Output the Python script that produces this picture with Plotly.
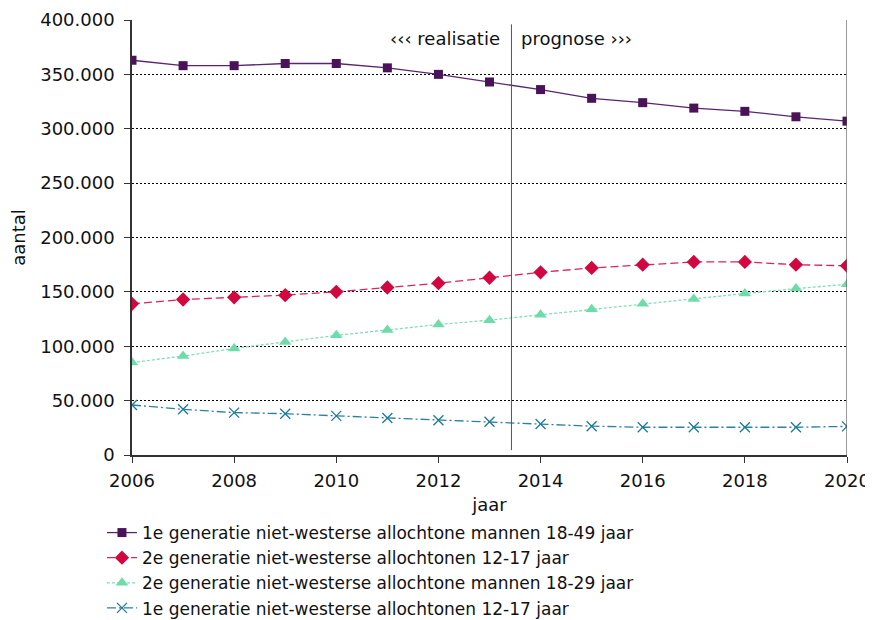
import plotly.graph_objects as go

years = list(range(2006, 2021))
s1_name = "1e generatie niet-westerse allochtone mannen 18-49 jaar"
s1 = [363000, 358000, 358000, 360000, 360000, 356000, 350000, 343000, 336000, 328000, 324000, 319000, 316000, 311000, 307000]
s2_name = "2e generatie niet-westerse allochtonen 12-17 jaar"
s2 = [139000, 143000, 145000, 147000, 150000, 154000, 158000, 163000, 168000, 172000, 175000, 177500, 177500, 175000, 174000]
s3_name = "2e generatie niet-westerse allochtone mannen 18-29 jaar"
s3 = [85000, 91000, 98000, 104000, 110000, 115000, 120000, 124000, 129000, 134000, 139000, 143500, 148500, 153000, 157000]
s4_name = "1e generatie niet-westerse allochtonen 12-17 jaar"
s4 = [46000, 42000, 39000, 38000, 36000, 34000, 32000, 30500, 28500, 26500, 25500, 25500, 25500, 25500, 26300]

y_ticks = [0, 50000, 100000, 150000, 200000, 250000, 300000, 350000, 400000]
y_ticktext = ["0", "50.000", "100.000", "150.000", "200.000", "250.000", "300.000", "350.000", "400.000"]
x_ticks = [2006, 2008, 2010, 2012, 2014, 2016, 2018, 2020]
split_year = 2013.43

font = "DejaVu Sans"

fig = go.Figure()
fig.add_trace(go.Scatter(x=years, y=s1, name=s1_name, mode="lines+markers",
                         line=dict(color="#5a2470", width=1.3, dash="solid"),
                         marker=dict(symbol="square", size=9, color="#4a1259")))
fig.add_trace(go.Scatter(x=years, y=s2, name=s2_name, mode="lines+markers",
                         line=dict(color="#d8245a", width=1.3, dash="8px,4px"),
                         marker=dict(symbol="diamond", size=11, color="#d2073f")))
fig.add_trace(go.Scatter(x=years, y=s3, name=s3_name, mode="lines+markers",
                         line=dict(color="#7fe0b4", width=1.3, dash="3px,2px"),
                         marker=dict(symbol="triangle-up", size=11, color="#6fdbaa")))
fig.add_trace(go.Scatter(x=years, y=s4, name=s4_name, mode="lines+markers",
                         line=dict(color="#2a82a0", width=1.3, dash="9px,3px,2px,3px"),
                         marker=dict(symbol="x-thin", size=10, color="#1a7a9a",
                                     line=dict(width=1.3, color="#1a7a9a"))))

# split line
fig.add_shape(type="line", xref="x", yref="y", x0=split_year, x1=split_year,
              y0=4500, y1=396000, line=dict(color="#555555", width=1))
# right border
fig.add_shape(type="line", xref="x", yref="paper", x0=2020, x1=2020, y0=0, y1=1,
              line=dict(color="#555555", width=1.2))

fig.add_annotation(x=split_year, y=383000, xref="x", yref="y", text="‹‹‹ realisatie",
                   showarrow=False, xanchor="right", xshift=-9,
                   font=dict(family=font, size=18, color="#111111"))
fig.add_annotation(x=split_year, y=383000, xref="x", yref="y", text="prognose ›››",
                   showarrow=False, xanchor="left", xshift=8,
                   font=dict(family=font, size=18, color="#111111"))

# the page places the figure 8px from the top-left corner (body margin)
fig.update_layout(
    width=865, height=612,
    margin=dict(l=124, r=26, t=12, b=165, autoexpand=False),
    paper_bgcolor="white", plot_bgcolor="white",
    font=dict(family=font, size=18, color="#111111"),
    showlegend=True,
    legend=dict(x=-0.042, y=-0.138, xanchor="left", yanchor="top",
                orientation="v", font=dict(family=font, size=17, color="#111111"),
                tracegroupgap=0, itemwidth=30, bgcolor="rgba(0,0,0,0)"),
    xaxis=dict(range=[2006, 2020], tickvals=x_ticks, showgrid=False,
               showline=True, linecolor="#333333", linewidth=1.5,
               ticks="outside", ticklen=6, tickcolor="#333333",
               ticklabelstandoff=3, automargin=False,
               title=dict(text="jaar", font=dict(family=font, size=18), standoff=8),
               zeroline=False),
    yaxis=dict(range=[0, 400000], tickvals=y_ticks, ticktext=y_ticktext,
               showgrid=True, gridcolor="black", gridwidth=1, griddash="2px,2px",
               showline=True, linecolor="#333333", linewidth=1.5,
               ticks="outside", ticklen=6, tickcolor="#333333",
               ticklabelstandoff=6, automargin=False,
               title=dict(text="aantal", font=dict(family=font, size=18), standoff=10),
               zeroline=False),
)

fig.write_html("out.html")
